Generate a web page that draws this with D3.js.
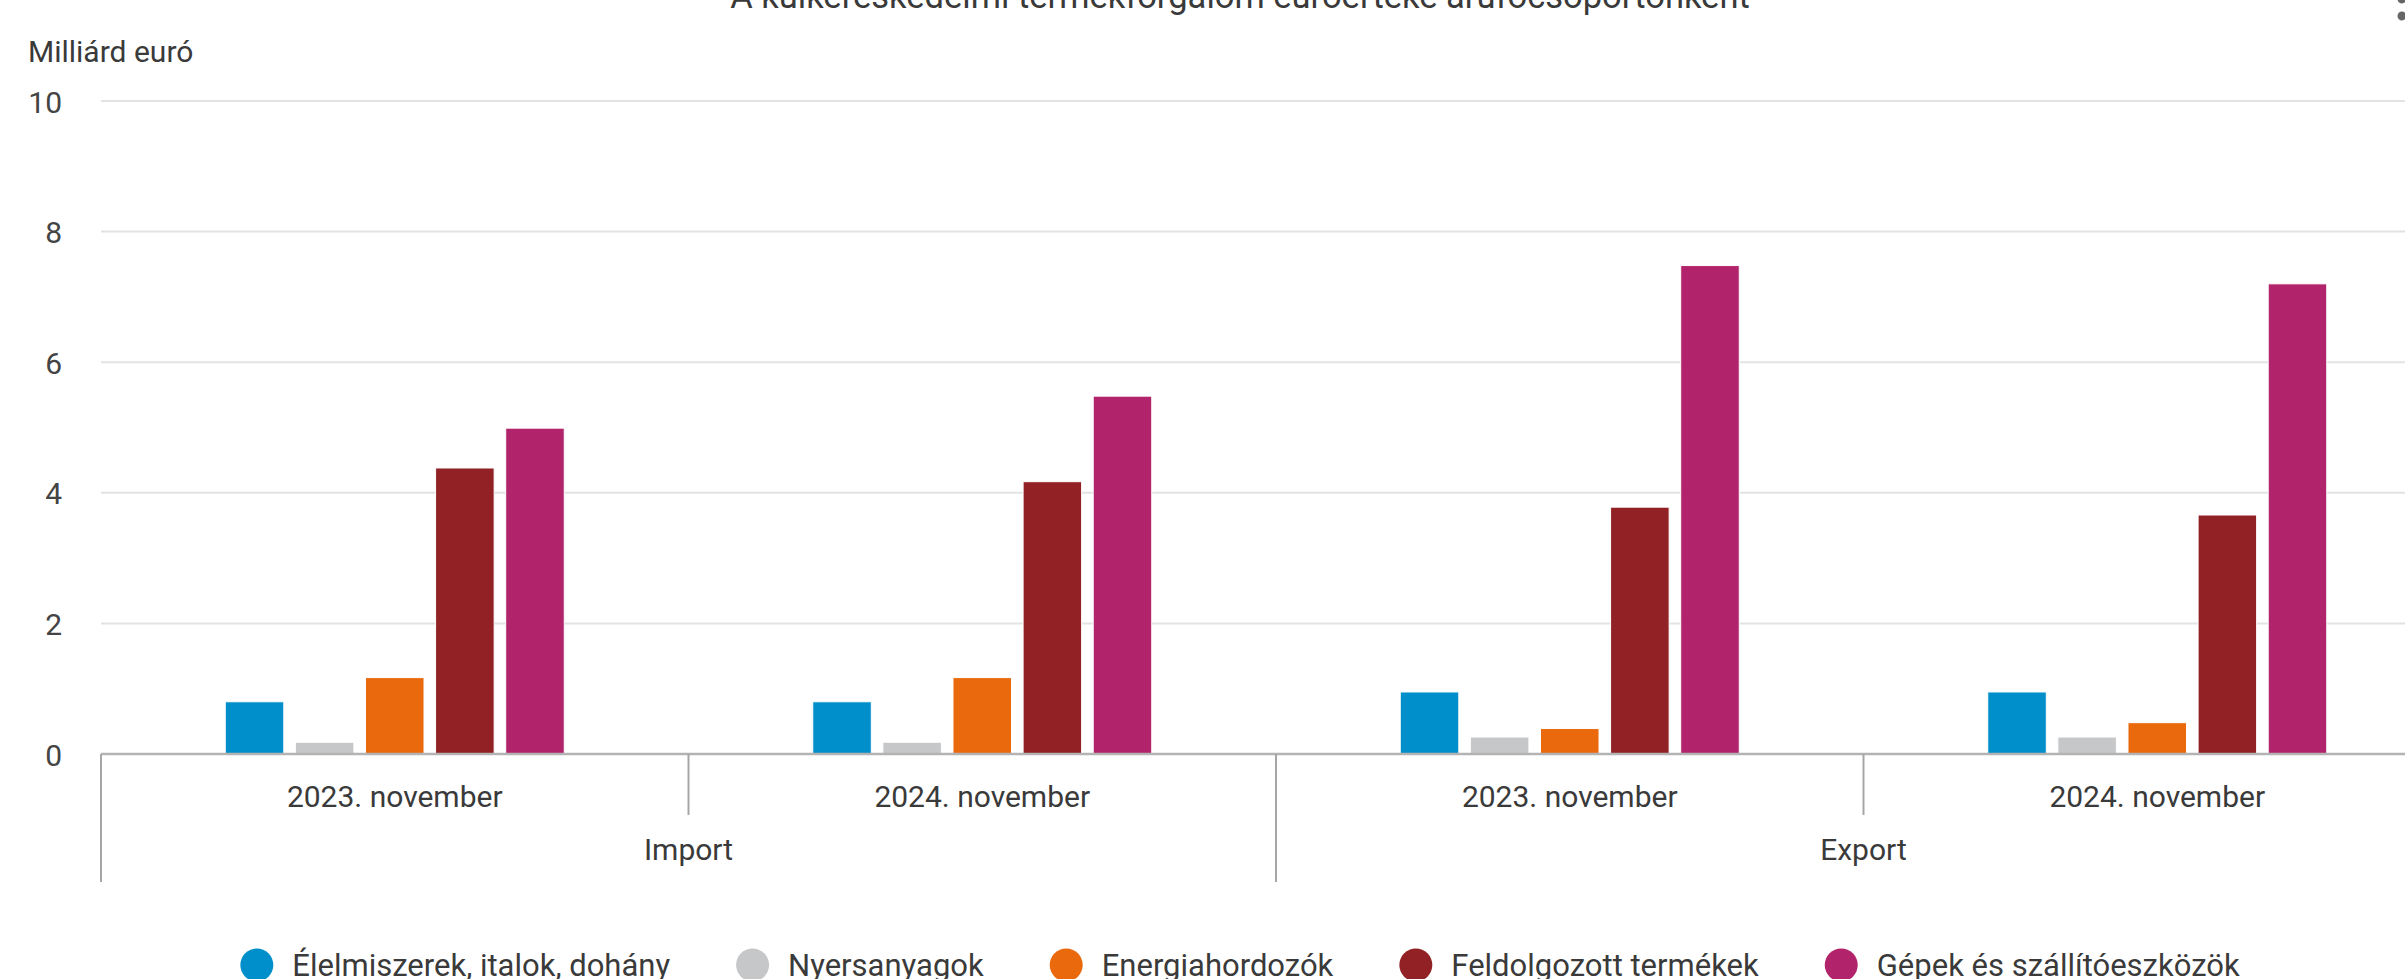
<!DOCTYPE html>
<html>
<head>
<meta charset="utf-8">
<script src="https://cdn.jsdelivr.net/npm/d3@7"></script>
<style>
  html, body { margin: 0; padding: 0; background: #fff; overflow: hidden; }
  svg { display: block; font-family: Roboto, "Noto Sans", sans-serif; }
</style>
</head>
<body>
<svg id="chart" width="2405" height="979"></svg>
<script>
// data
var title = "A külkereskedelmi termékforgalom euróértéke árufőcsoportonként";
var yLabel = "Milliárd euró";
var groups = ["Import", "Export"];
var periods = ["2023. november", "2024. november"];
var seriesNames = ["Élelmiszerek, italok, dohány", "Nyersanyagok", "Energiahordozók", "Feldolgozott termékek", "Gépek és szállítóeszközök"];
var seriesColors = ["#008fca", "#c6c7c8", "#e9690c", "#912124", "#b1236a"];
// order: Import 2023, Import 2024, Export 2023, Export 2024
var elelmiszer = [0.80, 0.80, 0.95, 0.95];
var nyersanyag = [0.18, 0.18, 0.26, 0.26];
var energia = [1.17, 1.17, 0.39, 0.48];
var feldolgozott = [4.38, 4.17, 3.78, 3.66];
var gepek = [4.99, 5.48, 7.48, 7.20];
var yTicks = [0, 2, 4, 6, 8, 10];

var seriesValues = [elelmiszer, nyersanyag, energia, feldolgozott, gepek];

// helper
function translate(x, y){ return "translate(" + x + "," + y + ")"; }

function draw(){
  var svg = d3.select("#chart");
  var chartW = 2480;
  var plotLeft = 101, plotRight = 2451, plotTop = 101, plotBottom = 754;
  var textColor = "#3a3a3a";

  // one slot per group/period pair
  var slots = [];
  groups.forEach(function(g){
    periods.forEach(function(p){ slots.push(g + "|" + p); });
  });

  var x0 = d3.scaleBand().domain(slots).range([plotLeft, plotRight]);
  var x1 = d3.scaleBand().domain(seriesNames).range([0, 339]).paddingInner(0.165);
  var y = d3.scaleLinear().domain([0, 10]).range([plotBottom, plotTop]);

  // title (cut off at top like the original)
  svg.append("text")
    .text(title)
    .attr("x", chartW / 2)
    .attr("y", 8)
    .attr("fill", textColor)
    .style("text-anchor", "middle")
    .style("font-size", "34.5px");

  // menu dots
  svg.selectAll(".dot").data([-1, 16])
    .enter()
    .append("circle")
      .attr("class", "dot")
      .attr("cx", 2402)
      .attr("cy", d => d)
      .attr("r", 4.5)
      .attr("fill", "#666");

  // y axis title
  svg.append("text")
    .text(yLabel)
    .attr("x", 28)
    .attr("y", 51)
    .attr("fill", textColor)
    .attr("dominant-baseline", "central")
    .style("font-size", "30px");

  // gridlines
  svg.selectAll(".grid").data(yTicks.filter(d => d > 0))
    .enter()
    .append("line")
      .attr("class", "grid")
      .attr("x1", plotLeft)
      .attr("x2", plotRight)
      .attr("y1", d => y(d))
      .attr("y2", d => y(d))
      .style("stroke", "#e3e3e3")
      .style("stroke-width", 2);

  // y tick labels
  svg.selectAll(".ytick").data(yTicks)
    .enter()
    .append("text")
      .attr("class", "ytick")
      .attr("x", 62)
      .attr("y", d => y(d) + 1)
      .text(d => d)
      .attr("fill", "#444")
      .attr("dominant-baseline", "central")
      .style("text-anchor", "end")
      .style("font-size", "30px");

  // bars
  var rows = [];
  slots.forEach(function(s, i){
    seriesNames.forEach(function(n, j){
      rows.push({slot: s, name: n, value: seriesValues[j][i], color: seriesColors[j]});
    });
  });

  var barGroups = svg.selectAll(".slot").data(slots)
    .enter()
    .append("g")
      .attr("class", "slot")
      .attr("transform", d => translate(x0(d) + x0.bandwidth() / 2 - 169.5, 0));

  barGroups.selectAll("rect")
    .data(s => rows.filter(r => r.slot == s))
    .enter()
    .append("rect")
      .attr("x", d => x1(d.name))
      .attr("y", d => y(d.value))
      .attr("width", x1.bandwidth())
      .attr("height", d => y(0) - y(d.value))
      .attr("fill", d => d.color)
      .style("stroke", "#fff")
      .style("stroke-width", 1);

  // x axis line
  svg.append("line")
    .attr("x1", plotLeft)
    .attr("x2", plotRight)
    .attr("y1", plotBottom)
    .attr("y2", plotBottom)
    .style("stroke", "#b3b3b3")
    .style("stroke-width", 2.5);

  // separators: long ones between groups, short ones between periods
  var edges = slots.map(d => x0(d)).concat([plotRight]);
  svg.selectAll(".sep").data(edges)
    .enter()
    .append("line")
      .attr("class", "sep")
      .attr("x1", d => d)
      .attr("x2", d => d)
      .attr("y1", plotBottom)
      .attr("y2", (d, i) => i % 2 == 0 ? 882 : 815)
      .style("stroke", "#a6a6a6")
      .style("stroke-width", 2);

  // period labels
  svg.selectAll(".period").data(slots)
    .enter()
    .append("text")
      .attr("class", "period")
      .attr("x", d => x0(d) + x0.bandwidth() / 2)
      .attr("y", 796)
      .text(d => d.split("|")[1])
      .attr("fill", textColor)
      .attr("dominant-baseline", "central")
      .style("text-anchor", "middle")
      .style("font-size", "30px");

  // group labels
  svg.selectAll(".group").data(groups)
    .enter()
    .append("text")
      .attr("class", "group")
      .attr("x", d => x0(d + "|" + periods[0]) + x0.bandwidth())
      .attr("y", 849)
      .text(d => d)
      .attr("fill", textColor)
      .attr("dominant-baseline", "central")
      .style("text-anchor", "middle")
      .style("font-size", "30px");

  // legend
  var legend = svg.append("g").attr("transform", translate(0, 965));
  var items = legend.selectAll(".item").data(seriesNames)
    .enter()
    .append("g")
      .attr("class", "item");

  items.append("circle")
    .attr("r", 16.5)
    .attr("cx", 16.5)
    .attr("fill", (d, i) => seriesColors[i]);

  items.append("text")
    .text(d => d)
    .attr("x", 52)
    .attr("fill", textColor)
    .attr("dominant-baseline", "central")
    .style("font-size", "31px");

  var gap = 66, pos = 0, widths = [];
  items.each(function(){
    var w = 52 + d3.select(this).select("text").node().getComputedTextLength();
    widths.push(w);
  });
  var total = d3.sum(widths) + gap * (widths.length - 1);
  pos = chartW / 2 - total / 2;
  items.attr("transform", function(d, i){
    var p = pos;
    pos += widths[i] + gap;
    return translate(p, 0);
  });
}

draw();
</script>
</body>
</html>
